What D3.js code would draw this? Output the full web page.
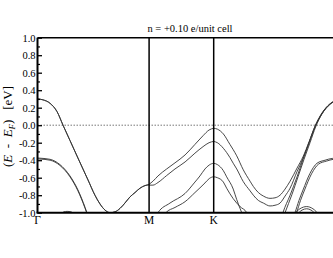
<!DOCTYPE html>
<html>
<head>
<meta charset="utf-8">
<script src="https://cdn.jsdelivr.net/npm/d3@7"></script>
<style>
  body { margin: 0; background: #fff; }
  svg text { font-family: "Liberation Serif", "DejaVu Serif", serif; fill: #000; }
</style>
</head>
<body>
<svg id="chart" width="333" height="258"></svg>
<script>
const TITLE = 'n = +0.10 e/unit cell';
const kPoints = [0, 0.577, 0.911, 1.577];
const kLabels = ['Γ', 'M', 'K', 'Γ'];
const energyTicks = [-1.0, -0.8, -0.6, -0.4, -0.2, 0.0, 0.2, 0.4, 0.6, 0.8, 1.0];
const energyMinor = [-0.9, -0.7, -0.5, -0.3, -0.1, 0.1, 0.3, 0.5, 0.7, 0.9];

// bands as [k, E] pairs, k along the path Γ-M-K-Γ
const bandA_GM = [[0,0.30],[0.028,0.29],[0.065,0.25],[0.101,0.155],[0.132,0.0],[0.168,-0.175],[0.209,-0.375],[0.261,-0.625],[0.297,-0.80],[0.323,-0.90],[0.349,-0.97],[0.375,-1.0],[0.401,-0.99],[0.427,-0.95],[0.452,-0.89],[0.478,-0.82],[0.504,-0.77],[0.530,-0.72],[0.556,-0.69],[0.577,-0.68]];
const bandUp_MK = [[0.577,-0.675],[0.597,-0.64],[0.623,-0.58],[0.668,-0.50],[0.711,-0.43],[0.763,-0.34],[0.814,-0.22],[0.856,-0.12],[0.887,-0.055],[0.911,-0.035]];
const bandLo_MK = [[0.577,-0.685],[0.597,-0.685],[0.623,-0.655],[0.668,-0.575],[0.711,-0.50],[0.763,-0.42],[0.814,-0.32],[0.856,-0.245],[0.887,-0.20],[0.911,-0.185]];
const bandUp_KG = [[0.911,-0.035],[0.930,-0.045],[0.961,-0.10],[0.995,-0.22],[1.012,-0.28],[1.030,-0.35],[1.064,-0.51],[1.099,-0.64],[1.116,-0.70],[1.142,-0.77],[1.168,-0.81],[1.202,-0.836],[1.228,-0.83],[1.254,-0.80],[1.280,-0.73],[1.306,-0.64],[1.342,-0.49],[1.373,-0.36],[1.404,-0.19],[1.435,-0.01],[1.471,0.14],[1.513,0.245],[1.545,0.285],[1.577,0.30]];
const bandLo_KG = [[0.911,-0.185],[0.930,-0.20],[0.961,-0.264],[0.995,-0.37],[1.012,-0.435],[1.030,-0.50],[1.064,-0.645],[1.099,-0.75],[1.116,-0.80],[1.142,-0.86],[1.168,-0.89],[1.202,-0.923],[1.228,-0.915],[1.254,-0.89],[1.280,-0.81],[1.306,-0.72],[1.342,-0.53],[1.373,-0.38],[1.404,-0.20],[1.435,-0.02],[1.471,0.13],[1.513,0.24],[1.545,0.28],[1.577,0.295]];
const band3_left = [[0.610,-1.05],[0.623,-1.0],[0.685,-0.89],[0.763,-0.78],[0.814,-0.65],[0.840,-0.58],[0.866,-0.50],[0.888,-0.455],[0.911,-0.436],[0.930,-0.45],[0.961,-0.52],[0.978,-0.59],[1.012,-0.73],[1.030,-0.85],[1.047,-0.95],[1.056,-1.0],[1.070,-1.08]];
const band3_right = [[1.262,-1.05],[1.269,-1.0],[1.306,-0.80],[1.342,-0.59],[1.373,-0.39],[1.404,-0.20],[1.435,-0.015],[1.471,0.135],[1.513,0.245],[1.545,0.285],[1.577,0.30]];
const band4_left = [[0.654,-1.05],[0.664,-1.0],[0.711,-0.94],[0.763,-0.874],[0.814,-0.77],[0.866,-0.66],[0.888,-0.61],[0.911,-0.59],[0.930,-0.60],[0.961,-0.65],[0.978,-0.72],[1.012,-0.84],[1.047,-0.93],[1.082,-1.0],[1.095,-1.06]];
const band4_right = [[1.272,-1.05],[1.280,-1.0],[1.316,-0.79],[1.347,-0.59],[1.378,-0.39],[1.409,-0.20],[1.438,-0.02],[1.471,0.13],[1.513,0.24],[1.545,0.28],[1.577,0.295]];
const bandV1_left = [[0,-0.375],[0.013,-0.377],[0.065,-0.39],[0.116,-0.45],[0.168,-0.58],[0.209,-0.74],[0.246,-0.94],[0.254,-0.99],[0.271,-1.08]];
const bandV2_left = [[0,-0.385],[0.013,-0.387],[0.065,-0.40],[0.116,-0.46],[0.168,-0.59],[0.209,-0.75],[0.246,-0.95],[0.254,-1.0],[0.271,-1.09]];
const bandV1_right = [[1.321,-1.05],[1.331,-1.0],[1.352,-0.86],[1.373,-0.74],[1.409,-0.55],[1.445,-0.435],[1.487,-0.40],[1.524,-0.38],[1.577,-0.375]];
const bandV2_right = [[1.329,-1.05],[1.339,-1.0],[1.360,-0.86],[1.381,-0.74],[1.417,-0.555],[1.453,-0.445],[1.495,-0.41],[1.530,-0.39],[1.577,-0.385]];
const archLeft = [[0.116,-1.02],[0.137,-0.99],[0.153,-0.985],[0.173,-0.99],[0.189,-1.02]];
const archRightOuter = [[1.326,-1.02],[1.357,-0.955],[1.392,-0.93],[1.424,-0.955],[1.455,-1.02]];
const archRightInner = [[1.342,-1.02],[1.368,-0.97],[1.392,-0.955],[1.414,-0.97],[1.440,-1.02]];

const allBands = [bandA_GM, bandA_GM, bandUp_MK, bandLo_MK, bandUp_KG, bandLo_KG,
  band3_left, band3_right, band4_left, band4_right,
  bandV1_left, bandV2_left, bandV1_right, bandV2_right,
  archLeft, archRightOuter, archRightInner];

const W = 333, H = 258;
const svg = d3.select('#chart');
svg.append('rect').attr('width', W).attr('height', H).attr('fill', '#fff');

// the plot runs on past the right edge of the picture (last Γ is cut off)
const x = d3.scaleLinear().domain([kPoints[0], kPoints[3]]).range([37.5, 342.5]);
const y = d3.scaleLinear().domain([-1, 1]).range([212.7, 37.7]);

svg.append('defs').append('clipPath').attr('id', 'plotclip')
  .append('rect')
  .attr('x', x(0)).attr('y', y(1))
  .attr('width', x(kPoints[3]) - x(0)).attr('height', y(-1) - y(1));

// fermi level
svg.append('line')
  .attr('x1', x(0)).attr('x2', x(kPoints[3]))
  .attr('y1', y(0)).attr('y2', y(0))
  .attr('stroke', '#777').attr('stroke-width', 1)
  .attr('stroke-dasharray', '1.5,1.5');

const line = d3.line()
  .x(d => x(d[0]))
  .y(d => y(d[1]))
  .curve(d3.curveMonotoneX);

svg.append('g')
  .attr('clip-path', 'url(#plotclip)')
  .selectAll('path')
  .data(allBands)
  .join('path')
  .attr('d', line)
  .attr('fill', 'none')
  .attr('stroke', '#333')
  .attr('stroke-width', 0.9);

// high symmetry lines
svg.append('g').selectAll('line')
  .data(kPoints)
  .join('line')
  .attr('x1', d => x(d)).attr('x2', d => x(d))
  .attr('y1', y(1)).attr('y2', y(-1))
  .attr('stroke', '#000')
  .attr('stroke-width', (d, i) => i == 0 ? 2 : 1.5);

// frame
svg.append('line')
  .attr('x1', x(0)).attr('x2', x(kPoints[3]))
  .attr('y1', y(1)).attr('y2', y(1))
  .attr('stroke', '#000').attr('stroke-width', 1.5);
svg.append('line')
  .attr('x1', x(0) - 1).attr('x2', x(kPoints[3]))
  .attr('y1', y(-1)).attr('y2', y(-1))
  .attr('stroke', '#000').attr('stroke-width', 2);

const fmt = v => d3.format('.1f')(v).replace('−', '-');

const yAxis = svg.append('g')
  .attr('transform', `translate(${x(0)},0)`)
  .call(d3.axisLeft(y).tickValues(energyTicks).tickSize(-4.5).tickPadding(2).tickFormat(fmt));
yAxis.attr('font-family', null);
yAxis.select('.domain').remove();
yAxis.selectAll('line').attr('stroke', '#000').attr('stroke-width', 1.3);
yAxis.selectAll('text')
  .attr('font-size', 10.5)
  .attr('fill', '#000');

const yMinor = svg.append('g')
  .attr('transform', `translate(${x(0)},0)`)
  .call(d3.axisLeft(y).tickValues(energyMinor).tickSize(-2.5).tickFormat(''));
yMinor.select('.domain').remove();
yMinor.selectAll('line').attr('stroke', '#000').attr('stroke-width', 1.2);

// k labels (only those inside the picture)
svg.append('g').selectAll('text')
  .data(kPoints.map((k, i) => ({ k: k, label: kLabels[i] })).filter(d => x(d.k) < W - 5))
  .join('text')
  .attr('x', d => x(d.k))
  .attr('y', 223.5)
  .attr('text-anchor', 'middle')
  .attr('font-size', 11.5)
  .text(d => d.label);

// title
svg.append('text')
  .attr('x', 190)
  .attr('y', 32)
  .attr('text-anchor', 'middle')
  .attr('font-size', 10.5)
  .text(TITLE);

// y label, written upward from its bottom end
const ylab = svg.append('text')
  .attr('transform', 'translate(12,167) rotate(-90)')
  .attr('text-anchor', 'start')
  .attr('font-size', 13);
ylab.append('tspan').text('(');
ylab.append('tspan').attr('font-style', 'italic').text('E');
ylab.append('tspan').text('\u00a0\u00a0-\u00a0\u00a0');
ylab.append('tspan').attr('font-style', 'italic').text('E');
ylab.append('tspan').attr('font-style', 'italic').attr('font-size', 9).attr('dy', 2.5).text('F');
ylab.append('tspan').attr('dy', -2.5).text(')');
ylab.append('tspan').text('\u00a0\u00a0\u00a0[eV]');
</script>
</body>
</html>
